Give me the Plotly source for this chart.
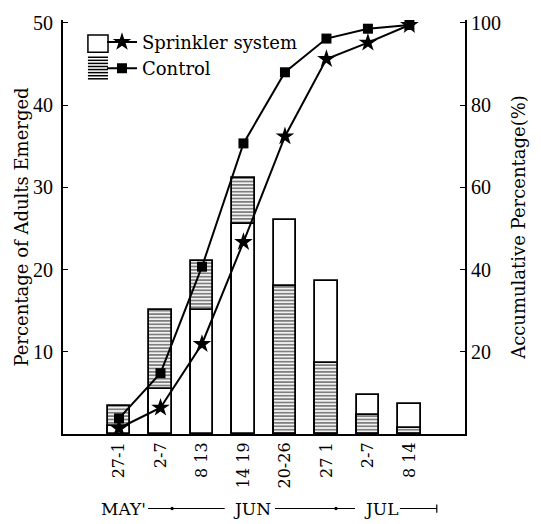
import plotly.graph_objects as go

periods = ["27-1", "2-7", "8 13", "14 19", "20-26", "27 1", "2-7", "8 14"]
sprinkler_pct = [1.0, 5.5, 15.1, 25.5, 26.0, 18.6, 4.8, 3.7]
control_pct = [3.4, 15.1, 21.1, 31.1, 18.0, 8.6, 2.3, 0.7]
sprinkler_cum = [1.4, 6.4, 21.9, 46.7, 72.4, 91.2, 95.2, 99.5]
control_cum = [3.8, 14.8, 40.7, 70.7, 88.0, 96.2, 98.6, 99.5]
months = ["MAY'", "JUN", "JUL"]

x = list(range(len(periods)))
SERIF = "Liberation Serif, Times New Roman, serif"
WIDE = "DejaVu Serif, serif"
BW = 0.55

fig = go.Figure()
stripe = dict(shape="-", size=3.4, solidity=0.55, fgcolor="black", bgcolor="white", fillmode="overlay")
fig.add_trace(go.Bar(x=x, y=control_pct, width=BW, marker=dict(color="white", pattern=stripe,
                     line=dict(color="black", width=1.8)), showlegend=False, hoverinfo="skip"))
fig.add_trace(go.Bar(x=x, y=sprinkler_pct, width=BW, marker=dict(color="white",
                     line=dict(color="black", width=1.8)), showlegend=False, hoverinfo="skip"))
front_control = [c if c < s else None for c, s in zip(control_pct, sprinkler_pct)]
front_control[0] = None
fig.add_trace(go.Bar(x=x, y=front_control, width=BW, marker=dict(color="white", pattern=stripe,
                     line=dict(color="black", width=1.8)), showlegend=False, hoverinfo="skip"))

fig.add_trace(go.Scatter(x=x, y=sprinkler_cum, yaxis="y2", mode="lines+markers", name="Sprinkler system",
                         line=dict(color="black", width=2),
                         marker=dict(symbol="star", size=14, color="black")))
fig.add_trace(go.Scatter(x=x, y=control_cum, yaxis="y2", mode="lines+markers", name="Control",
                         line=dict(color="black", width=2),
                         marker=dict(symbol="square", size=10, color="black")))

shapes = []
# legend swatches
shapes.append(dict(type="rect", xref="paper", yref="paper", x0=0.062, x1=0.112, y0=0.922, y1=0.964,
                   line=dict(color="black", width=1.5), fillcolor="white"))
y0, y1 = 0.858, 0.910
n = 8
for i in range(n):
    yy = y0 + (y1 - y0) * i / (n - 1)
    shapes.append(dict(type="line", xref="paper", yref="paper", x0=0.062, x1=0.112, y0=yy, y1=yy,
                       line=dict(color="black", width=1.5)))

# month line decoration
ym = -0.18
for a, b in [(0.7, 2.55), (3.76, 5.69), (6.77, 7.66)]:
    shapes.append(dict(type="line", xref="x", yref="paper", x0=a, x1=b, y0=ym, y1=ym,
                       line=dict(color="black", width=1.2)))
for d in [1.28, 5.23]:
    shapes.append(dict(type="circle", xref="x", yref="paper", x0=d - 0.04, x1=d + 0.04,
                       y0=ym - 0.004, y1=ym + 0.004, fillcolor="black", line=dict(width=0)))
shapes.append(dict(type="line", xref="x", yref="paper", x0=7.66, x1=7.66, y0=ym - 0.01, y1=ym + 0.01,
                   line=dict(color="black", width=1.2)))

annotations = []
for m, cx in zip(months, [0.1, 3.2, 6.31]):
    annotations.append(dict(x=cx, y=ym, xref="x", yref="paper", text=m, showarrow=False,
                            xanchor="center", yanchor="middle",
                            font=dict(family=WIDE, size=17, color="black")))

fig.update_layout(
    width=541, height=524,
    margin=dict(l=55, r=84, t=4, b=98),
    plot_bgcolor="white", paper_bgcolor="white",
    barmode="overlay", bargap=0,
    font=dict(family=SERIF, size=17, color="black"),
    shapes=shapes, annotations=annotations,
    xaxis=dict(range=[-1.35, 8.34], tickvals=x, ticktext=periods, tickangle=-90,
               showline=True, linecolor="black", linewidth=2, ticks="", showgrid=False,
               zeroline=False, tickfont=dict(family=WIDE, size=16)),
    yaxis=dict(range=[0, 50.36], tickvals=[10, 20, 30, 40, 50], showline=True, linecolor="black",
               linewidth=2, ticks="inside", ticklen=5, tickcolor="black", showgrid=False, zeroline=False,
               ticklabeloverflow="allow", ticklabelstandoff=4,
               title=dict(text="Percentage of Adults Emerged", font=dict(family=WIDE, size=18), standoff=0),
               tickfont=dict(family=SERIF, size=20)),
    yaxis2=dict(range=[0, 100.72], overlaying="y", side="right", tickvals=[20, 40, 60, 80, 100],
                showline=True, linecolor="black", linewidth=2, ticks="inside", ticklen=5, tickcolor="black",
                showgrid=False, zeroline=False, ticklabeloverflow="allow",
                title=dict(text="Accumulative Percentage(%)", font=dict(family=WIDE, size=18), standoff=12),
                tickfont=dict(family=SERIF, size=20)),
    legend=dict(x=0.097, y=0.991, xanchor="left", yanchor="top", bgcolor="rgba(0,0,0,0)",
                font=dict(family=WIDE, size=18), itemwidth=30, tracegroupgap=0),
)

fig.write_html("out.html")
